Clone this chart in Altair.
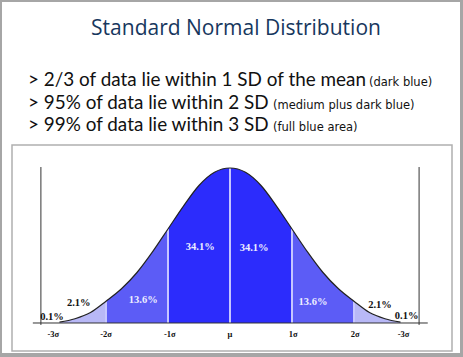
import altair as alt
import pandas as pd

# ---------------- data ----------------
TITLE = "Standard Normal Distribution"
bullet_main = [
    "> 2/3 of data lie within 1 SD of the mean",
    "> 95% of data lie within 2 SD",
    "> 99% of data lie within 3 SD",
]
bullet_note = ["(dark blue)", "(medium plus dark blue)", "(full blue area)"]

# curve (z in SD units, height in density units)
z_vals = [-2.75, -2.5, -2.25, -2.0, -1.75, -1.5, -1.25, -1.0, -0.75, -0.5, -0.25, 0.0,
          0.25, 0.5, 0.75, 1.0, 1.25, 1.5, 1.75, 2.0, 2.25, 2.5, 2.75]
density = [0.002, 0.011, 0.027, 0.056, 0.088, 0.130, 0.183, 0.242, 0.301, 0.354, 0.388, 0.399,
           0.388, 0.354, 0.301, 0.242, 0.183, 0.130, 0.088, 0.056, 0.027, 0.011, 0.002]

band_names = ["left_tail", "left_mid", "center", "right_mid", "right_tail"]
band_lo = [-2.75, -2.0, -1.0, 1.0, 2.0]
band_hi = [-2.0, -1.0, 1.0, 2.0, 2.75]
band_shade = ["light", "medium", "dark", "medium", "light"]

sep_z = [-2.0, -1.0, 0.0, 1.0, 2.0]

pct_labels = ["0.1%", "2.1%", "13.6%", "34.1%", "34.1%", "13.6%", "2.1%", "0.1%"]
pct_z = [-2.87, -2.44, -1.40, -0.48, 0.39, 1.34, 2.42, 2.85]
pct_d = [0.015, 0.051, 0.059, 0.196, 0.193, 0.054, 0.046, 0.018]
pct_tone = ["outside", "outside", "inside", "inside", "inside", "inside", "outside", "outside"]

tick_labels = ["-3σ", "-2σ", "-1σ", "μ", "1σ", "2σ", "-3σ"]
tick_z = [-2.85, -2.0, -0.97, 0.0, 1.02, 2.02, 2.8]
tick_d = [-0.029] * len(tick_labels)

frame_z = [-3.05, 3.05]
frame_top = [0.4015, 0.4015]
frame_bottom = [-0.005, -0.005]
baseline_from = [-3.18]
baseline_to = [3.19]

# ---------------- tables ----------------
curve_df = pd.DataFrame({"z": z_vals, "d": density})
rows = []
for name, lo, hi, shade in zip(band_names, band_lo, band_hi, band_shade):
    for z, d in zip(z_vals, density):
        if lo <= z <= hi:
            rows.append({"band": name, "shade": shade, "z": z, "d": d})
band_df = pd.DataFrame(rows)
dens_at = dict(zip(z_vals, density))
sep_df = pd.DataFrame({"z": sep_z, "d": [dens_at[z] for z in sep_z]})
pct_df = pd.DataFrame({"label": pct_labels, "z": pct_z, "d": pct_d, "tone": pct_tone})
tick_df = pd.DataFrame({"label": tick_labels, "z": tick_z, "d": tick_d})
frame_df = pd.DataFrame({"z": frame_z, "top": frame_top, "bottom": frame_bottom})
base_df = pd.DataFrame({"z1": baseline_from, "z2": baseline_to, "d": [0.0]})
one = pd.DataFrame({"k": [0]})

W, H = 440, 206
xs = alt.Scale(domain=[-3.516, 3.581], nice=False, zero=False)
ys = alt.Scale(domain=[-0.0721, 0.4582], nice=False, zero=False)

DARK, MED, LIGHT = "#2C2CFC", "#5C5CF6", "#B8B8F6"

# ---------------- decoration ----------------
slide = alt.Chart(one).mark_rect(color="white").encode(
    x=alt.value(-10), x2=alt.value(448), y=alt.value(-143), y2=alt.value(208)
)
box = alt.Chart(one).mark_rect(filled=False, stroke="#B0B0B0", strokeWidth=1.5).encode(
    x=alt.value(0), x2=alt.value(W), y=alt.value(0), y2=alt.value(H)
)

# ---------------- plot ----------------
areas = alt.Chart(band_df).mark_area(interpolate="monotone", orient="vertical").encode(
    x=alt.X("z:Q", scale=xs, axis=None),
    y=alt.Y("d:Q", scale=ys, axis=None),
    y2=alt.datum(0),
    color=alt.Color("shade:N", scale=alt.Scale(domain=["light", "medium", "dark"],
                                                range=[LIGHT, MED, DARK]), legend=None),
    detail="band:N",
)
seps = alt.Chart(sep_df).mark_rule(color="#C6C6FF", strokeWidth=2).encode(
    x=alt.X("z:Q", scale=xs), y=alt.Y("d:Q", scale=ys), y2=alt.datum(0)
)
curve = alt.Chart(curve_df).mark_line(interpolate="monotone", color="#222222", strokeWidth=1.2).encode(
    x=alt.X("z:Q", scale=xs), y=alt.Y("d:Q", scale=ys)
)
baseline = alt.Chart(base_df).mark_rule(color="#333333", strokeWidth=1).encode(
    x=alt.X("z1:Q", scale=xs), x2="z2:Q", y=alt.Y("d:Q", scale=ys)
)
frames = alt.Chart(frame_df).mark_rule(color="#333333", strokeWidth=1).encode(
    x=alt.X("z:Q", scale=xs), y=alt.Y("top:Q", scale=ys), y2="bottom:Q"
)
pct_in = alt.Chart(pct_df).transform_filter(alt.datum.tone == "inside").mark_text(
    font="Liberation Serif", fontWeight="bold", fontSize=10.5, color="#EEEEFF", baseline="middle"
).encode(x=alt.X("z:Q", scale=xs), y=alt.Y("d:Q", scale=ys), text="label:N")
pct_out = alt.Chart(pct_df).transform_filter(alt.datum.tone == "outside").mark_text(
    font="Liberation Serif", fontWeight="bold", fontSize=10.5, color="#111111", baseline="middle"
).encode(x=alt.X("z:Q", scale=xs), y=alt.Y("d:Q", scale=ys), text="label:N")
ticks = alt.Chart(tick_df).mark_text(
    font="Liberation Serif", fontWeight="bold", fontSize=8.5, color="#111111", baseline="middle"
).encode(x=alt.X("z:Q", scale=xs), y=alt.Y("d:Q", scale=ys), text="label:N")

# ---------------- slide texts ----------------
title = alt.Chart(one).mark_text(
    font="Open Sans", fontSize=21, color="#17375E", align="center", baseline="alphabetic"
).encode(x=alt.value(224), y=alt.value(-110), text=alt.value(TITLE))

text_layers = []
main_x = [16, 16, 16]
main_y = [-59, -36, -14]
note_x = [357, 261, 261]
for i in range(3):
    text_layers.append(alt.Chart(one).mark_text(
        font="Lato", fontSize=18.9, color="#111111", align="left", baseline="alphabetic"
    ).encode(x=alt.value(main_x[i]), y=alt.value(main_y[i]), text=alt.value(bullet_main[i])))
    text_layers.append(alt.Chart(one).mark_text(
        font="DejaVu Sans", fontSize=11.5, color="#111111", align="left", baseline="alphabetic"
    ).encode(x=alt.value(note_x[i]), y=alt.value(main_y[i]), text=alt.value(bullet_note[i])))

chart = alt.layer(
    slide, box, areas, seps, curve, baseline, frames, pct_in, pct_out, ticks, title, *text_layers
).properties(
    width=W, height=H,
    autosize=alt.AutoSizeParams(type="none"),
    padding={"left": 12, "top": 145, "right": 11, "bottom": 6},
    background="#A6A6A6",
).configure_view(stroke=None)

chart.save("out.html", embed_options={"renderer": "svg", "actions": False})
